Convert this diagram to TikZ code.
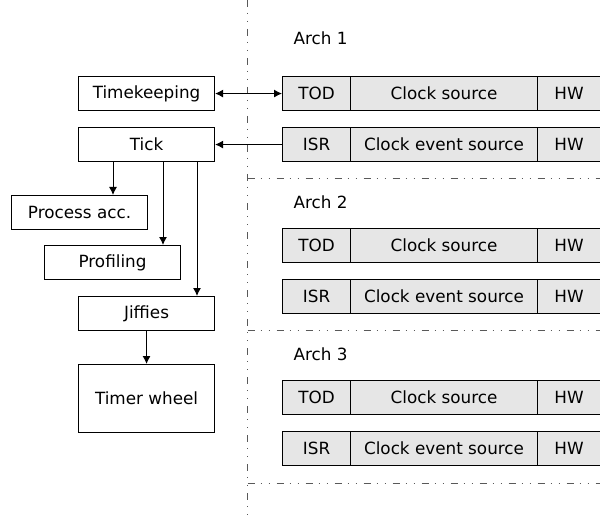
\documentclass[tikz,border=0pt]{standalone}
\usepackage{fontspec}
\setmainfont{DejaVu Sans}
\usetikzlibrary{arrows.meta,calc}

\definecolor{cellgray}{RGB}{230,230,230}
\tikzset{
  box/.style={draw, line width=1.1pt, minimum height=34pt, inner sep=0pt, anchor=north west},
  cell/.style={box, fill=cellgray},
  sep/.style={line width=0.9pt, black!65,
    dash pattern=on 7pt off 6pt on 1pt off 7pt on 1pt off 7pt},
  link/.style={line width=1pt, -{Latex[length=8pt,width=8pt]}},
}

\begin{document}
\begin{tikzpicture}[x=1pt, y=-1pt, font=\fontsize{16.8}{20}\selectfont]
\useasboundingbox (0,0) rectangle (600,516);

% Kernel side:
\node [box, minimum width=136pt] (timekeeping) at (78,76)  {Timekeeping};
\node [box, minimum width=136pt] (tick)        at (78,127) {Tick};
\node [box, minimum width=136pt] (procacc)     at (11,195) {Process acc.};
\node [box, minimum width=136pt] (profiling)   at (44,245) {Profiling};
\node [box, minimum width=136pt] (jiffies)     at (78,296) {Jiffies};
\node [box, minimum width=136pt, minimum height=68pt] (timerwheel) at (78,364) {Timer wheel};

% Separators
\draw [sep] (247.5,0) -- (247.5,516);
\foreach \ly in {178,330,483}
  \draw [sep] (247.5,\ly) -- (600,\ly);

% Architectures
\foreach \a/\y/\ly in {1/0/38, 2/152/202, 3/304/354} {
  \node [anchor=west] (arch\a) at (290,\ly) {Arch \a};
  \node [cell, minimum width=68pt]  (tod\a) at (282,76+\y)  {TOD};
  \node [cell, minimum width=187pt] (cs\a)  at (350,76+\y)  {Clock source};
  \node [cell, minimum width=63pt]  (hw\a)  at (537,76+\y)  {HW};
  \node [cell, minimum width=68pt]  (isr\a) at (282,127+\y) {ISR};
  \node [cell, minimum width=187pt] (ces\a) at (350,127+\y) {Clock event source};
  \node [cell, minimum width=63pt]  (hwe\a) at (537,127+\y) {HW};
}

% Connectors
\draw [link, {Latex[length=8pt,width=8pt]}-{Latex[length=8pt,width=8pt]}] (timekeeping) -- (tod1);
\draw [link] (isr1) -- (tick);
\draw [link] ([xshift=35pt]tick.south west) -- ([xshift=35pt]tick.south west |- procacc.north);
\draw [link] ([xshift=85pt]tick.south west) -- ([xshift=85pt]tick.south west |- profiling.north);
\draw [link] ([xshift=119pt]tick.south west) -- ([xshift=119pt]tick.south west |- jiffies.north);
\draw [link] (jiffies) -- (timerwheel);

\end{tikzpicture}
\end{document}
